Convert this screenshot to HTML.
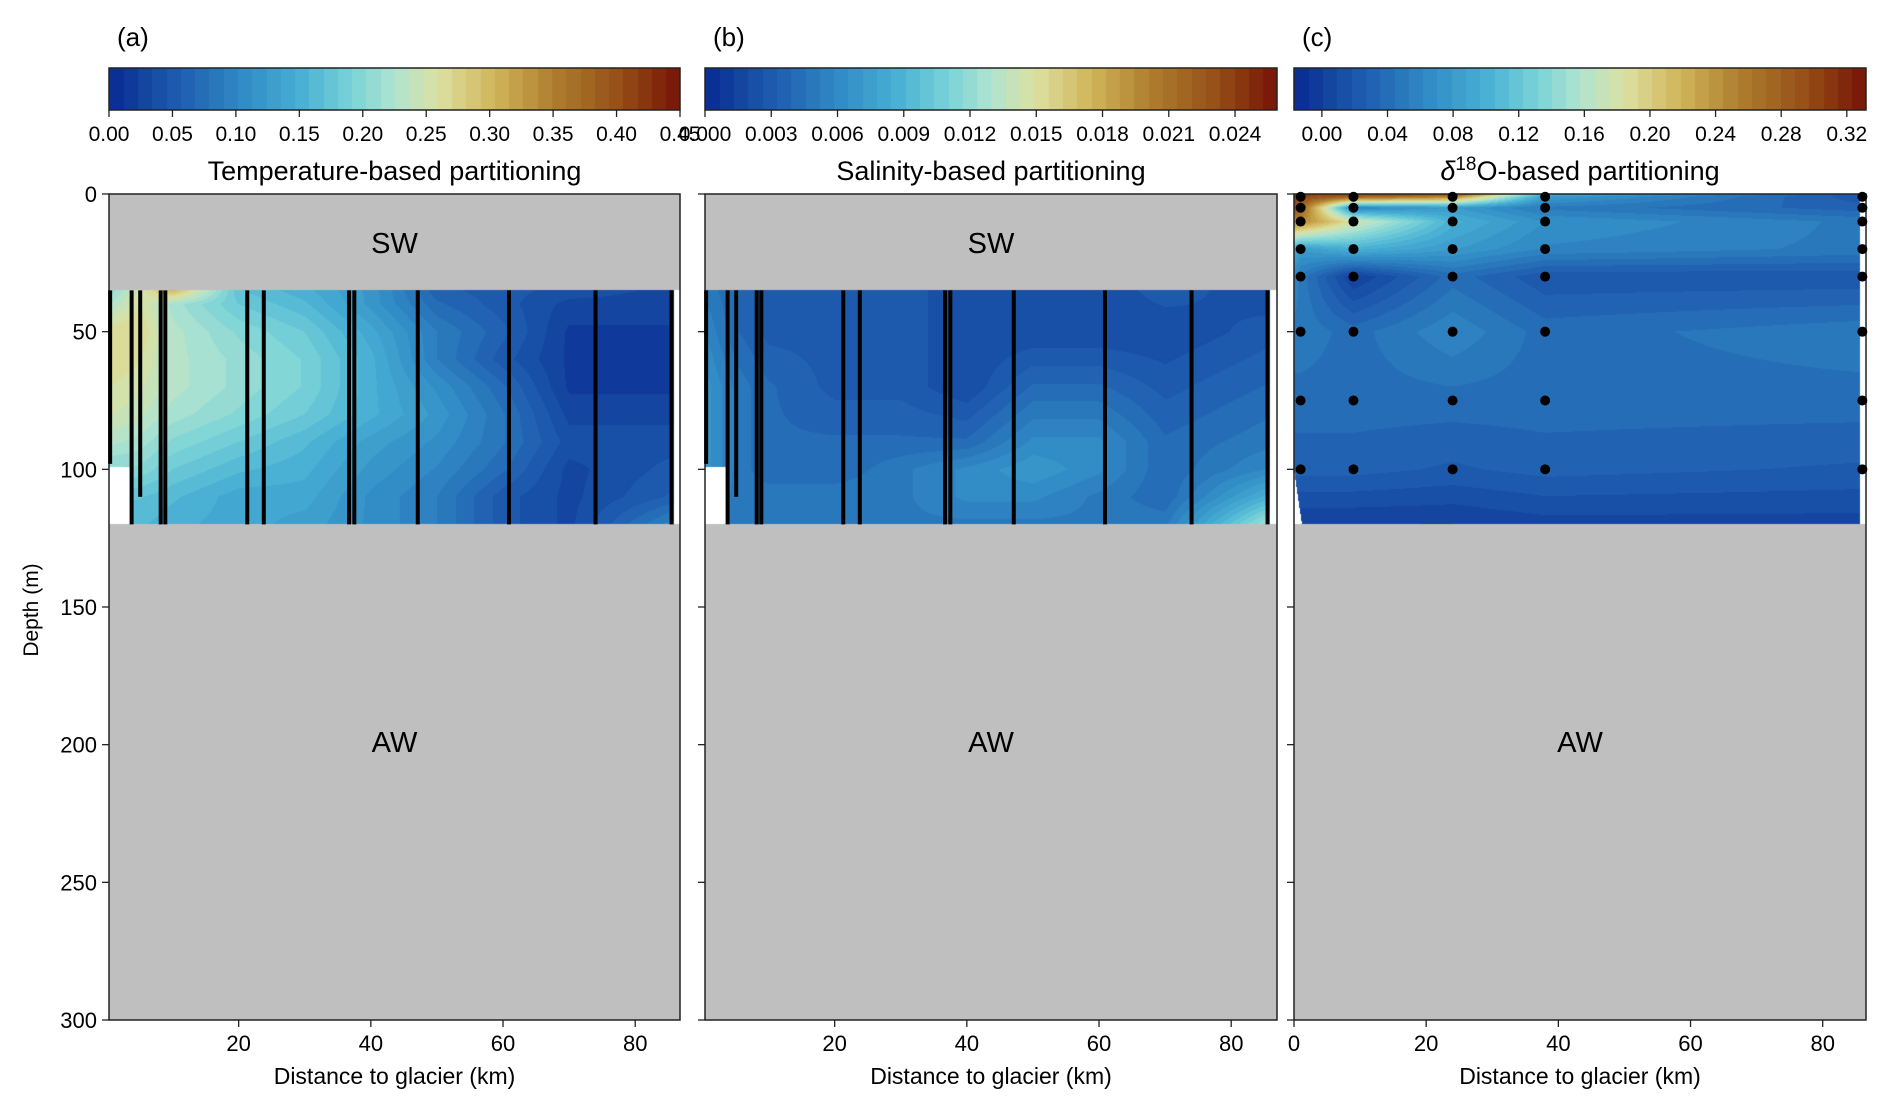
<!DOCTYPE html>
<html><head><meta charset="utf-8"><style>
body{margin:0;background:#fff;width:1892px;height:1113px;overflow:hidden;position:relative;font-family:"Liberation Sans",sans-serif}
canvas{position:absolute}
svg{position:absolute;left:0;top:0}
</style></head><body>
<canvas id="ca"></canvas>
<canvas id="cb"></canvas>
<canvas id="cc"></canvas>
<canvas id="k1"></canvas>
<canvas id="k2"></canvas>
<canvas id="k3"></canvas>
<svg id="s" width="1892" height="1113"></svg>
<script>
// ---- data ----
const xsAB=[0,5,10,20,30,40,50,60,70,86.5];
const depthsA=[35,40,50,60,70,80,90,100,110,120];
const valsA=[
[0.2,0.25,0.3,0.17,0.15,0.12,0.06,0.05,0.04,0.03],
[0.22,0.26,0.22,0.18,0.16,0.12,0.07,0.05,0.03,0.03],
[0.27,0.27,0.23,0.2,0.18,0.14,0.09,0.06,0.02,0.02],
[0.27,0.26,0.23,0.21,0.19,0.15,0.09,0.05,0.02,0.02],
[0.26,0.25,0.23,0.21,0.19,0.15,0.11,0.07,0.02,0.02],
[0.25,0.24,0.22,0.2,0.18,0.15,0.12,0.08,0.03,0.03],
[0.23,0.22,0.2,0.18,0.16,0.13,0.11,0.08,0.04,0.04],
[0.2,0.2,0.18,0.16,0.15,0.12,0.1,0.07,0.03,0.05],
[0.17,0.17,0.16,0.14,0.14,0.11,0.09,0.05,0.03,0.06],
[0.16,0.16,0.15,0.14,0.13,0.11,0.09,0.05,0.03,0.1]];
const depthsB=[35,50,70,90,100,110,120];
const valsB=[
[0.005,0.004,0.003,0.003,0.003,0.002,0.002,0.002,0.003,0.002],
[0.006,0.004,0.003,0.003,0.003,0.002,0.002,0.002,0.002,0.003],
[0.007,0.005,0.004,0.003,0.003,0.002,0.004,0.004,0.003,0.004],
[0.007,0.005,0.004,0.004,0.004,0.004,0.006,0.006,0.004,0.005],
[0.007,0.005,0.004,0.004,0.005,0.006,0.007,0.006,0.004,0.006],
[0.006,0.005,0.005,0.005,0.005,0.006,0.006,0.005,0.004,0.009],
[0.006,0.005,0.005,0.005,0.005,0.005,0.005,0.005,0.005,0.013]];
const xsC=[0,1,9,24,38,86.5];
const depthsC=[0,1,5,10,20,30,50,75,100,120];
const valsC=[
[0.3,0.3,0.3,0.3,0.1,0.02],
[0.3,0.3,0.28,0.25,0.08,0.02],
[0.3,0.28,0.06,0.08,0.05,0.03],
[0.25,0.25,0.18,0.1,0.07,0.05],
[0.1,0.08,0.1,0.08,0.06,0.05],
[0.06,0.05,0.0,0.04,0.02,0.02],
[0.05,0.05,0.04,0.06,0.04,0.05],
[0.04,0.04,0.04,0.04,0.04,0.04],
[0.03,0.03,0.03,0.025,0.03,0.025],
[0.0,0.0,0.0,0.0,0.005,0.005]];
const castX=[0.55,3.8,5.1,8.2,8.9,21.3,23.8,36.7,37.5,47.1,60.9,74,85.5];
const castEnd=[98,120,110,120,120,120,120,120,120,120,120,120,120];
const bottleX=[1,9,24,38,86];
const bottleD=[1,5,10,20,30,50,75,100];
const ticksA=["0.00","0.05","0.10","0.15","0.20","0.25","0.30","0.35","0.40","0.45"];
const ticksB=["0.000","0.003","0.006","0.009","0.012","0.015","0.018","0.021","0.024"];
const ticksC=["0.00","0.04","0.08","0.12","0.16","0.20","0.24","0.28","0.32"];
const depthTicks=[0,50,100,150,200,250,300];
const distTicks=[0,20,40,60,80];

// ---- layout ----
const panels=[{x0:109,x1:680},{x0:705,x1:1277},{x0:1294,x1:1866}];
const Y0=194,Y1=1020;
const PXKM=(680-109)/86.4;
function xs(p,km){const P=panels[p];const zero=(p==2?P.x0:P.x0-2.5);return zero+km*PXKM;}
function ys(d){return Y0+(Y1-Y0)*d/300;}
const stops=[[0,[10,48,150]],[0.12,[32,96,176]],[0.22,[48,136,196]],[0.33,[72,176,212]],[0.42,[120,210,216]],[0.5,[176,228,208]],[0.58,[220,224,160]],[0.68,[208,180,90]],[0.78,[176,128,48]],[0.9,[150,80,24]],[1,[122,26,8]]];
function cmap(t){t=Math.max(0,Math.min(1,t));t=Math.min(39,Math.floor(t*40))/39;
 for(let i=1;i<stops.length;i++){if(t<=stops[i][0]){const a=stops[i-1],b=stops[i],f=(t-a[0])/(b[0]-a[0]);return a[1].map((v,k)=>Math.round(v+(b[1][k]-v)*f));}}return stops[stops.length-1][1];}
function idx(arr,v){let i=0;while(i<arr.length-2&&v>arr[i+1])i++;let f=(v-arr[i])/(arr[i+1]-arr[i]);return [i,Math.max(0,Math.min(1,f))];}
function interp(xa,da,va,x,d){const [i,fx]=idx(xa,x),[j,fy]=idx(da,d);
 const a=va[j][i],b=va[j][i+1],c=va[j+1][i],e=va[j+1][i+1];return (a*(1-fx)+b*fx)*(1-fy)+(c*(1-fx)+e*fx)*fy;}
const ranges=[[0,0.45],[0,0.0259],[-0.017,0.3317]];
function field(id,p,xa,da,va,dtop,mask){
 const P=panels[p];const c=document.getElementById(id);const w=P.x1-P.x0,h=Y1-Y0;
 c.width=w;c.height=h;c.style.left=P.x0+'px';c.style.top=Y0+'px';
 const g=c.getContext('2d');const im=g.createImageData(w,h);const zero=xs(p,0);
 for(let py=0;py<h;py++){const d=(py+0.5)*300/h;
  for(let px=0;px<w;px++){const km=(P.x0+px+0.5-zero)/PXKM;let col;
   if(d<dtop){col=[191,191,191];}else if(d>=120){col=[191,191,191];}
   else if(mask(km,d)){col=[255,255,255];}
   else{const v=interp(xa,da,va,Math.min(km,xa[xa.length-1]),d);col=cmap((v-ranges[p][0])/(ranges[p][1]-ranges[p][0]));}
   const k=(py*w+px)*4;im.data[k]=col[0];im.data[k+1]=col[1];im.data[k+2]=col[2];im.data[k+3]=255;}}
 g.putImageData(im,0,0);}
field('ca',0,xsAB,depthsA,valsA,35,(km,d)=>(km<3.5&&d>99)||km>85.9);
field('cb',1,xsAB,depthsB,valsB,35,(km,d)=>(km<3.5&&d>99)||km>85.9);
field('cc',2,xsC,depthsC,valsC,0,(km,d)=>(d>100&&km<(d-100)/20*1.2)||km>85.6);
function cbar(id,p){const P=panels[p];const c=document.getElementById(id);const w=P.x1-P.x0,h=42;
 c.width=w;c.height=h;c.style.left=P.x0+'px';c.style.top='68px';const g=c.getContext('2d');
 for(let i=0;i<w;i++){const col=cmap(i/w);g.fillStyle=`rgb(${col})`;g.fillRect(i,0,1,h);}}
cbar('k1',0);cbar('k2',1);cbar('k3',2);

const svg=document.getElementById('s');const NS='http://www.w3.org/2000/svg';
function el(t,a,txt){const e=document.createElementNS(NS,t);for(const k in a)e.setAttribute(k,a[k]);if(txt!=null)e.textContent=txt;svg.appendChild(e);return e;}
const titles=["Temperature-based partitioning","Salinity-based partitioning",null];
const labels=["(a)","(b)","(c)"];const tks=[ticksA,ticksB,ticksC];
panels.forEach((P,p)=>{
 let e=el('text',{x:P.x0+8,y:46,'font-size':26},labels[p]);
 
 e=el('rect',{x:P.x0,y:68,width:P.x1-P.x0,height:42,fill:'none',stroke:'#222','stroke-width':1.5});
 
 tks[p].forEach(t=>{const v=parseFloat(t);const tx=P.x0+(v-ranges[p][0])/(ranges[p][1]-ranges[p][0])*(P.x1-P.x0);
  el('line',{x1:tx,x2:tx,y1:110,y2:117,stroke:'#222','stroke-width':1.3});
  const tt=el('text',{x:tx,y:141,'font-size':21,'text-anchor':'middle'},t);
  });
 const cx=(P.x0+P.x1)/2;
 if(titles[p]){e=el('text',{x:cx,y:180,'font-size':27,'text-anchor':'middle'},titles[p]);}
 else{e=el('text',{x:cx,y:180,'font-size':27,'text-anchor':'middle'});
  e.innerHTML='<tspan font-style="italic">δ</tspan><tspan dy="-10" font-size="19">18</tspan><tspan dy="10">O-based partitioning</tspan>';}
 
 e=el('rect',{x:P.x0,y:Y0,width:P.x1-P.x0,height:Y1-Y0,fill:'none',stroke:'#222','stroke-width':1.5});
 
 depthTicks.forEach(d=>{el('line',{x1:P.x0-7,x2:P.x0,y1:ys(d),y2:ys(d),stroke:'#222','stroke-width':1.3});
  if(p==0){const t=el('text',{x:P.x0-12,y:ys(d)+8,'font-size':22,'text-anchor':'end'},String(d));
   }});
 distTicks.forEach(k=>{if(p<2&&k==0)return;const tx=xs(p,k);
  el('line',{x1:tx,x2:tx,y1:Y1,y2:Y1+7,stroke:'#222','stroke-width':1.3});
  const t=el('text',{x:tx,y:Y1+31,'font-size':22,'text-anchor':'middle'},String(k));
  });
 e=el('text',{x:cx,y:1084,'font-size':23,'text-anchor':'middle'},'Distance to glacier (km)');
 
 if(p<2){e=el('text',{x:cx,y:253,'font-size':29,'text-anchor':'middle'},'SW');
  }
 e=el('text',{x:cx,y:752,'font-size':29,'text-anchor':'middle'},'AW');
 
 if(p<2){castX.forEach((k,i)=>{const l=el('line',{x1:xs(p,k),x2:xs(p,k),y1:ys(35),y2:ys(castEnd[i]),stroke:'#000','stroke-width':4});
  });}
 else{bottleX.forEach(k=>bottleD.forEach(d=>{const c=el('circle',{cx:xs(2,k),cy:ys(d),r:5,fill:'#000'});
  }));}
});
const yt=el('text',{x:38,y:610,'font-size':21,'text-anchor':'middle',transform:'rotate(-90 38 610)'},'Depth (m)');

</script>
</body></html>
